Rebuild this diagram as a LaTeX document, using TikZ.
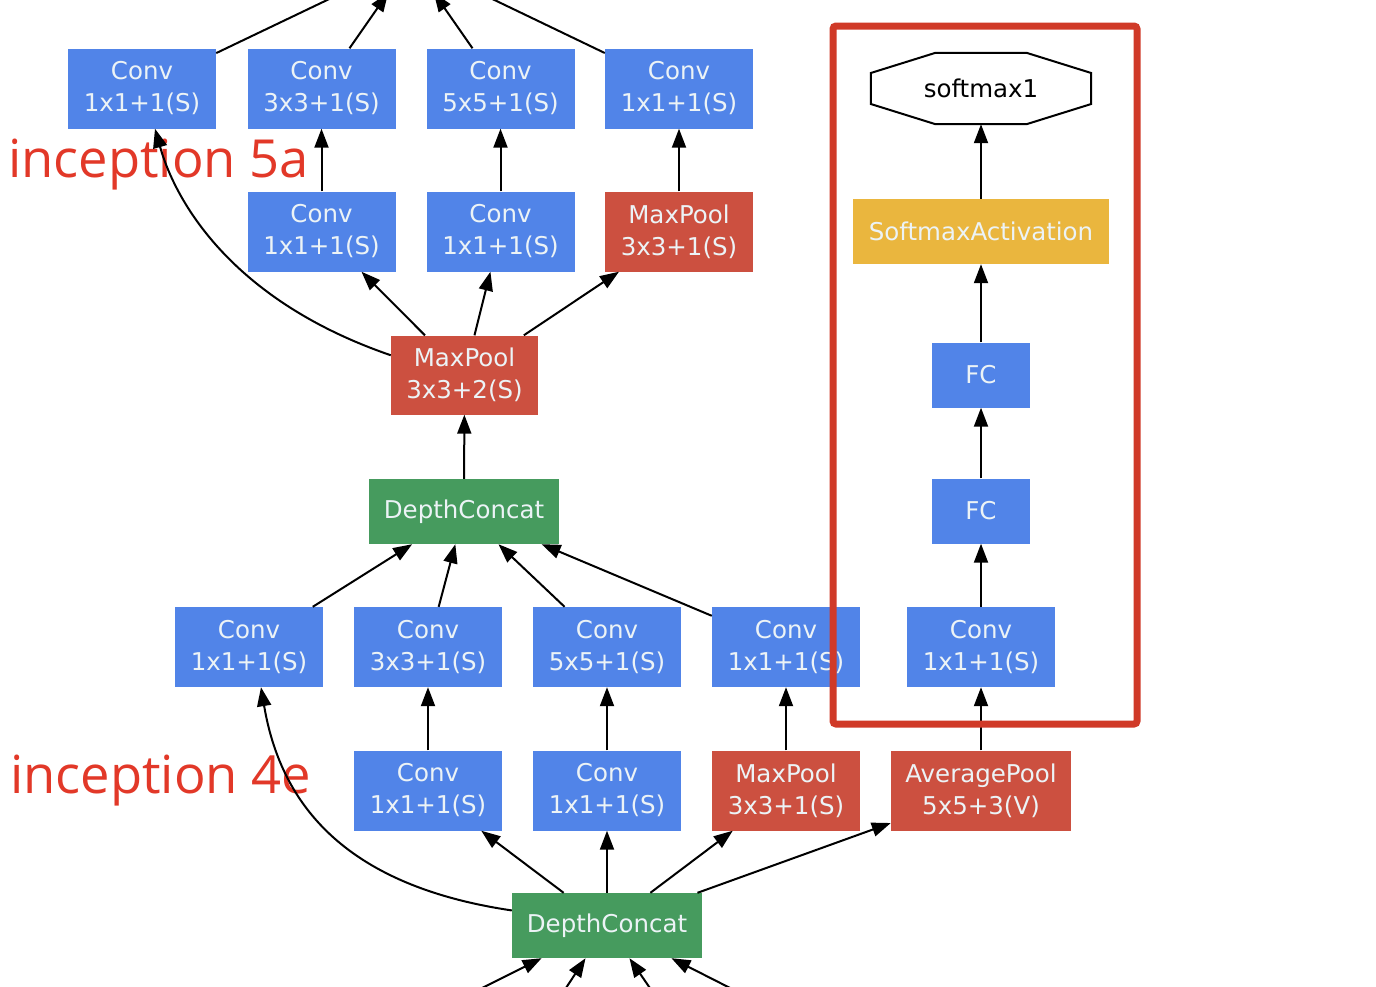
\documentclass[tikz,border=0pt]{standalone}
\usepackage{fontspec}
\usetikzlibrary{arrows.meta}
\newfontfamily\boxfont{DejaVu Sans}
\newfontfamily\labfont{Open Sans}
\definecolor{gblue}{RGB}{81,132,232}
\definecolor{gred}{RGB}{204,80,64}
\definecolor{ggreen}{RGB}{70,155,94}
\definecolor{gyellow}{RGB}{234,182,62}
\definecolor{gtext}{RGB}{236,243,246}
\definecolor{framered}{RGB}{208,58,40}
\definecolor{labred}{RGB}{226,56,40}
\tikzset{
  box/.style={rectangle, inner sep=0pt, minimum width=148pt, minimum height=80pt,
    align=center, text=gtext, font=\boxfont\fontsize{24.5}{32}\selectfont},
  conv/.style={box, fill=gblue},
  pool/.style={box, fill=gred},
  concat/.style={box, fill=ggreen, minimum width=190pt, minimum height=65pt},
  fcbox/.style={box, fill=gblue, minimum width=98pt, minimum height=65pt},
  actbox/.style={box, fill=gyellow, minimum width=256pt, minimum height=65pt},
  hidden/.style={rectangle, inner sep=0pt, minimum width=100pt, minimum height=65pt},
  edge/.style={line width=2pt, black, -{Triangle[length=19pt,width=14pt]}},
  lab/.style={anchor=base west, inner sep=0pt, text=labred, font=\labfont\fontsize{52.5}{60}\selectfont},
  frame/.style={draw=framered, line width=7pt, rounded corners=3pt}
}
\begin{document}
\begin{tikzpicture}[x=1pt,y=-1pt]
\useasboundingbox (0,0) rectangle (1376,986);
\fill[white] (0,0) rectangle (1376,986);
\clip (0,0) rectangle (1376,986);

% hidden nodes outside the picture
\node[hidden] (up) at (411,-40) {};
\coordinate (b1) at (406,1026);
\coordinate (b2) at (541,1026);
\coordinate (b3) at (676,1026);
\coordinate (b4) at (805,1026);

% inception 5a
\node[conv] (a1) at (142,88.5) {Conv\\1x1+1(S)};
\node[conv] (a2) at (321.5,88.5) {Conv\\3x3+1(S)};
\node[conv] (a3) at (500.5,88.5) {Conv\\5x5+1(S)};
\node[conv] (a4) at (679,88.5) {Conv\\1x1+1(S)};
\node[conv] (b2n) at (321.5,231.5) {Conv\\1x1+1(S)};
\node[conv] (b3n) at (500.5,231.5) {Conv\\1x1+1(S)};
\node[pool] (b4n) at (679,231.5) {MaxPool\\3x3+1(S)};
\node[pool, minimum width=147pt, minimum height=79pt] (mp5) at (464.5,375) {MaxPool\\3x3+2(S)};

% inception 4e
\node[concat] (dc5) at (464,511.5) {DepthConcat};
\node[conv] (c1) at (249,647) {Conv\\1x1+1(S)};
\node[conv] (c2) at (428,647) {Conv\\3x3+1(S)};
\node[conv] (c3) at (607,647) {Conv\\5x5+1(S)};
\node[conv] (c4) at (786,647) {Conv\\1x1+1(S)};
\node[conv] (c5) at (981,647) {Conv\\1x1+1(S)};
\node[conv] (d2) at (428,790.5) {Conv\\1x1+1(S)};
\node[conv] (d3) at (607,790.5) {Conv\\1x1+1(S)};
\node[pool] (d4) at (786,790.5) {MaxPool\\3x3+1(S)};
\node[pool, minimum width=180pt] (d5) at (981,790.5) {AveragePool\\5x5+3(V)};
\node[concat] (dc4) at (607,925.5) {DepthConcat};

% auxiliary classifier
\node[fcbox] (fc1) at (981,511) {FC};
\node[fcbox] (fc2) at (981,375) {FC};
\node[actbox] (act) at (981,231.5) {SoftmaxActivation};
\node[rectangle, inner sep=0pt, minimum width=220pt, minimum height=71pt,
  font=\boxfont\fontsize{24.5}{32}\selectfont] (sm) at (981,88.5) {softmax1};
\draw[line width=2pt] ([xshift=-45.5pt]sm.north) -- ([xshift=45.5pt]sm.north)
  -- ([yshift=15.5pt]sm.east) -- ([yshift=-15.5pt]sm.east)
  -- ([xshift=45.5pt]sm.south) -- ([xshift=-45.5pt]sm.south)
  -- ([yshift=-15.5pt]sm.west) -- ([yshift=15.5pt]sm.west) -- cycle;

% labels
\node[lab] (l5a) at (8,177) {inception 5a};
\node[lab] (l4e) at (10,793) {inception 4e};

% edges 5a
\draw[edge] (a1) -- (up);
\draw[edge] (a2) -- (up);
\draw[edge] (a3) -- (up);
\draw[edge] (a4) -- (up);
\draw[edge] (b2n) -- (a2);
\draw[edge] (b3n) -- (a3);
\draw[edge] (b4n) -- (a4);
\draw[edge] (mp5) -- (b2n);
\draw[edge] (mp5) -- (b3n);
\draw[edge] (mp5) -- (b4n);
\draw[edge] (mp5.165) .. controls (230,300) and (175,200) .. ([xshift=13pt]a1.south);
\draw[edge] (dc5) -- (mp5);

% edges 4e
\draw[edge] (c1) -- (dc5);
\draw[edge] (c2) -- (dc5);
\draw[edge] (c3) -- (dc5);
\draw[edge] (c4) -- (dc5);
\draw[edge] (d2) -- (c2);
\draw[edge] (d3) -- (c3);
\draw[edge] (d4) -- (c4);
\draw[edge] (d5) -- (c5);
\draw[edge] (dc4) -- (d2);
\draw[edge] (dc4) -- (d3);
\draw[edge] (dc4) -- (d4);
\draw[edge] (dc4) -- (d5);
\draw[edge] (dc4.171) .. controls (340,885) and (280,800) .. ([xshift=12pt]c1.south);
\draw[edge] (b1) -- (dc4);
\draw[edge] (b2) -- (dc4);
\draw[edge] (b3) -- (dc4);
\draw[edge] (b4) -- (dc4);

% aux edges
\draw[edge] (c5) -- (fc1);
\draw[edge] (fc1) -- (fc2);
\draw[edge] (fc2) -- (act);
\draw[edge] (act) -- (sm);

% red frame
\draw[frame] (833,26) rectangle (1137,724);
\end{tikzpicture}
\end{document}
